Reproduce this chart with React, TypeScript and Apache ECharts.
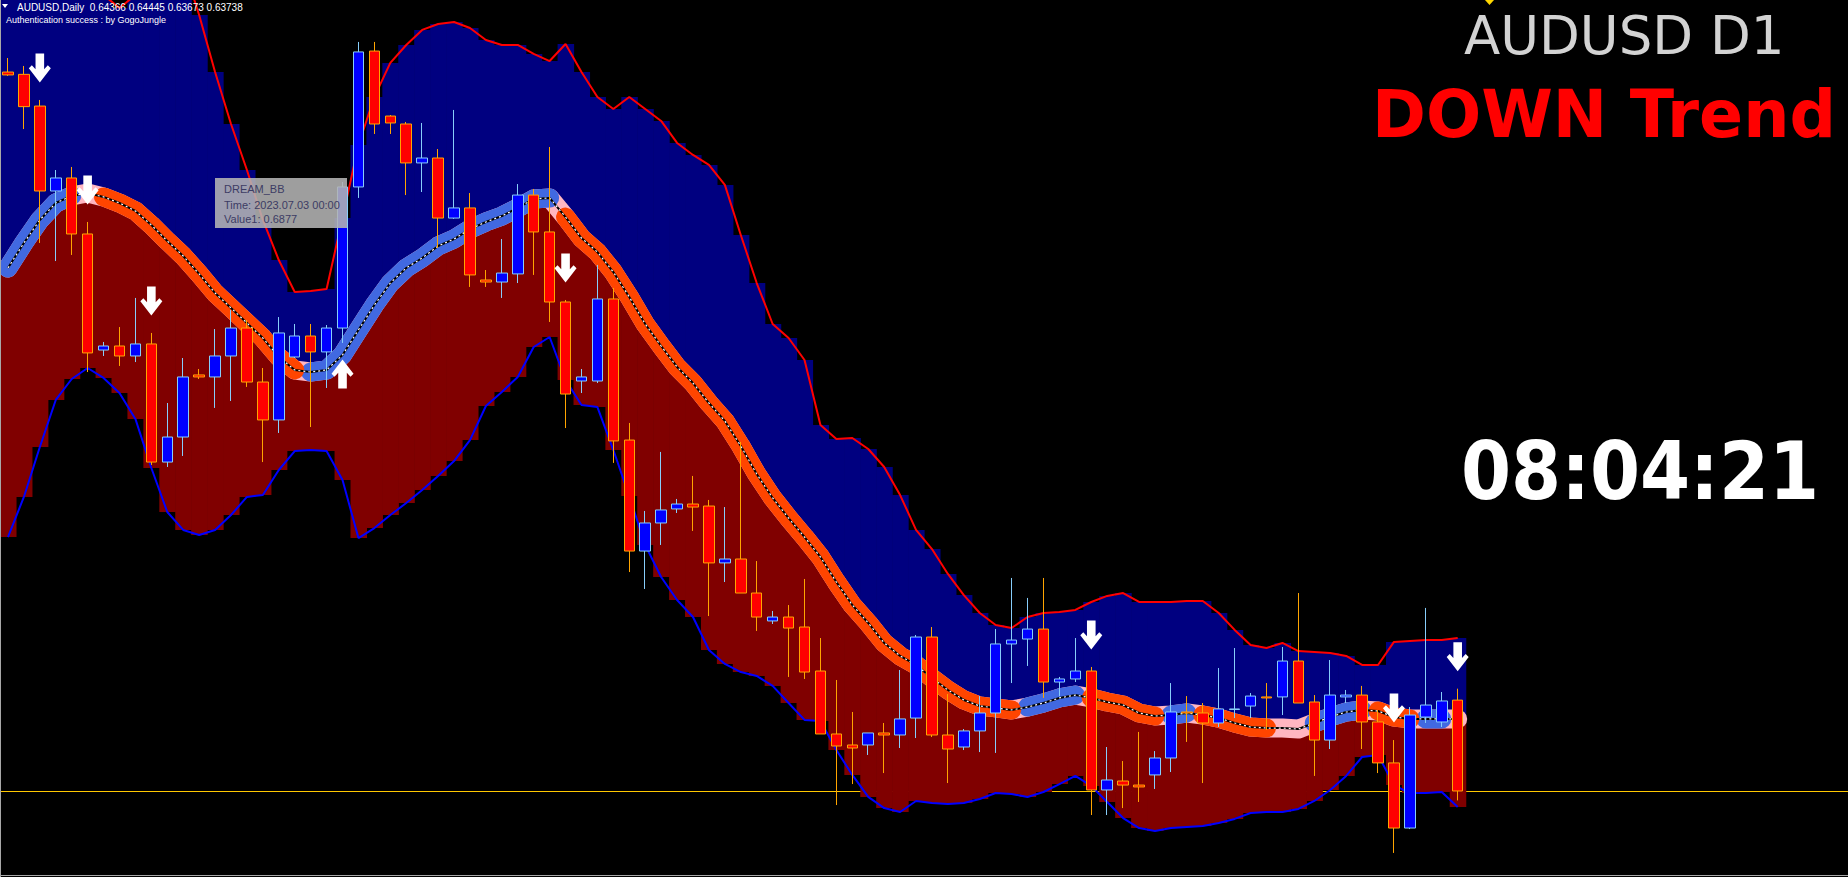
import React, { useEffect, useRef } from "react";
import * as echarts from "echarts";

// ---- price data (AUDUSD Daily), candles 0..91 ----
const openP = [
  0.68706, 0.6869, 0.68471, 0.67884, 0.67974, 0.67587, 0.66785, 0.66813, 0.66744, 0.66827,
  0.66011, 0.66184, 0.66613, 0.66599, 0.66744, 0.66937, 0.66564, 0.66302, 0.66737, 0.66882,
  0.66772, 0.66937, 0.67912, 0.68851, 0.68402, 0.68347, 0.68078, 0.68112, 0.67697, 0.67767,
  0.67269, 0.67255, 0.67311, 0.67856, 0.67601, 0.67117, 0.66571, 0.66571, 0.67138, 0.66163,
  0.65396, 0.6559, 0.65687, 0.65721, 0.65707, 0.65314, 0.65341, 0.65106, 0.64913, 0.6494,
  0.64871, 0.64567, 0.64132, 0.64056, 0.64056, 0.64139, 0.64125, 0.64242, 0.64802, 0.64125,
  0.64042, 0.64153, 0.64277, 0.64754, 0.64788, 0.64857, 0.64491, 0.64512, 0.64567, 0.63745,
  0.63807, 0.63779, 0.63849, 0.63966, 0.64284, 0.64277, 0.64208, 0.64301, 0.64325, 0.64388,
  0.64388, 0.64636, 0.64353, 0.6409, 0.64388, 0.64401, 0.64215, 0.63932, 0.63482, 0.64249,
  0.64215, 0.64366,
];
const highP = [
  0.68803, 0.68748, 0.68513, 0.68029, 0.6805, 0.6767, 0.66841, 0.66944, 0.67145, 0.66903,
  0.66419, 0.6673, 0.66654, 0.6693, 0.67062, 0.66993, 0.66661, 0.67013, 0.66965, 0.66965,
  0.66958, 0.67946, 0.68914, 0.68914, 0.68409, 0.68361, 0.68354, 0.68174, 0.68444, 0.6787,
  0.67338, 0.67552, 0.67932, 0.67898, 0.68188, 0.67131, 0.66654, 0.67373, 0.67214, 0.66281,
  0.65673, 0.66081, 0.65756, 0.65915, 0.65749, 0.657, 0.6615, 0.65327, 0.64982, 0.65023,
  0.65203, 0.64795, 0.64505, 0.64284, 0.64139, 0.64208, 0.64574, 0.64816, 0.64871, 0.64408,
  0.64166, 0.64394, 0.64857, 0.6521, 0.65072, 0.6521, 0.64526, 0.64795, 0.64595, 0.64042,
  0.63945, 0.64146, 0.64014, 0.64484, 0.64394, 0.64346, 0.64588, 0.64726, 0.64415, 0.64484,
  0.64733, 0.65106, 0.64401, 0.64643, 0.64436, 0.64464, 0.64298, 0.6409, 0.64318, 0.65003,
  0.64422, 0.64445,
];
const lowP = [
  0.68679, 0.68312, 0.67525, 0.674, 0.67442, 0.66633, 0.66744, 0.66675, 0.66702, 0.65991,
  0.65977, 0.66053, 0.66585, 0.66385, 0.66433, 0.6653, 0.66011, 0.66212, 0.6673, 0.66253,
  0.66523, 0.66834, 0.67836, 0.68278, 0.68278, 0.67856, 0.67877, 0.6749, 0.67691, 0.67221,
  0.67221, 0.67145, 0.67248, 0.67304, 0.66979, 0.66246, 0.66488, 0.66557, 0.66005, 0.65251,
  0.65134, 0.65438, 0.65659, 0.65535, 0.64947, 0.65182, 0.65106, 0.64844, 0.64892, 0.64526,
  0.64512, 0.64132, 0.63641, 0.63786, 0.63987, 0.63862, 0.64035, 0.64104, 0.64111, 0.63793,
  0.64021, 0.64007, 0.64001, 0.64484, 0.64602, 0.64381, 0.64394, 0.64491, 0.63572, 0.63572,
  0.6362, 0.63662, 0.63752, 0.63869, 0.64077, 0.63793, 0.6418, 0.64242, 0.64242, 0.6416,
  0.64263, 0.64346, 0.63842, 0.64028, 0.64346, 0.64028, 0.63862, 0.6331, 0.63475, 0.64208,
  0.6418, 0.63673,
];
const closeP = [
  0.68686, 0.68467, 0.67884, 0.67974, 0.67587, 0.66765, 0.66813, 0.66744, 0.66827, 0.66011,
  0.66184, 0.66599, 0.66599, 0.66744, 0.66937, 0.66564, 0.66302, 0.66903, 0.66882, 0.66772,
  0.66937, 0.67912, 0.68845, 0.68347, 0.68354, 0.68078, 0.68112, 0.67697, 0.67767, 0.67304,
  0.67255, 0.67317, 0.67856, 0.67601, 0.67117, 0.66481, 0.66599, 0.67138, 0.66157, 0.65396,
  0.6559, 0.6568, 0.65721, 0.657, 0.65314, 0.65341, 0.65106, 0.6494, 0.6494, 0.64864,
  0.6456, 0.64132, 0.64049, 0.64035, 0.64139, 0.64125, 0.64236, 0.64802, 0.64125, 0.64028,
  0.64153, 0.64277, 0.64754, 0.64781, 0.64857, 0.64491, 0.64512, 0.64567, 0.63745, 0.63814,
  0.63779, 0.63766, 0.63966, 0.64284, 0.64277, 0.64208, 0.64305, 0.64305, 0.64394, 0.64381,
  0.64636, 0.64346, 0.6409, 0.64401, 0.64401, 0.64215, 0.63932, 0.63482, 0.64263, 0.64332,
  0.6436, 0.63738,
];

// ---- DREAM_BB bands ----
const upperBand = [
  0.69618, 0.69757, 0.69826, 0.69791, 0.69688, 0.6948, 0.69238, 0.69149, 0.69238, 0.69411,
  0.69549, 0.69446, 0.691, 0.68706, 0.68347, 0.68029, 0.67684, 0.67407, 0.67186, 0.67193,
  0.67207, 0.67697, 0.68202, 0.68534, 0.68769, 0.68893, 0.68997, 0.69038, 0.69052, 0.6901,
  0.68927, 0.68893, 0.68893, 0.68831, 0.68782, 0.689, 0.68706, 0.68534, 0.68451, 0.68534,
  0.68451, 0.68368, 0.68216, 0.68133, 0.68064, 0.67926, 0.6758, 0.67248, 0.66965, 0.66868,
  0.66716, 0.66267, 0.6617, 0.66177, 0.66101, 0.65977, 0.65783, 0.65542, 0.6541, 0.65238,
  0.65092, 0.64968, 0.64885, 0.64864, 0.6494, 0.64968, 0.64975, 0.64989, 0.65044, 0.65086,
  0.65106, 0.65044, 0.65044, 0.65044, 0.65051, 0.65051, 0.64968, 0.64851, 0.64747, 0.64726,
  0.64761, 0.64705, 0.64699, 0.64692, 0.64671, 0.64609, 0.64609, 0.64768, 0.64775, 0.64781,
  0.64781, 0.64795,
];
const middleBand = [
  0.67352, 0.67525, 0.67684, 0.67801, 0.6785, 0.6787, 0.67843, 0.67801, 0.67746, 0.67649,
  0.67539, 0.67435, 0.67311, 0.67179, 0.67076, 0.66972, 0.66868, 0.66737, 0.66647, 0.66633,
  0.66647, 0.66751, 0.66924, 0.67096, 0.67248, 0.67352, 0.67421, 0.67504, 0.67552, 0.67621,
  0.6767, 0.67711, 0.67767, 0.67829, 0.67836, 0.67704, 0.67559, 0.67462, 0.67324, 0.67152,
  0.66965, 0.66813, 0.66668, 0.66557, 0.66419, 0.66295, 0.66122, 0.65928, 0.65763, 0.65624,
  0.65493, 0.65355, 0.65182, 0.65023, 0.64899, 0.64761, 0.64671, 0.64609, 0.64519, 0.64436,
  0.64367, 0.64325, 0.64312, 0.64298, 0.64318, 0.64346, 0.64381, 0.64401, 0.64381, 0.64353,
  0.64332, 0.64277, 0.64256, 0.64263, 0.64277, 0.64263, 0.64242, 0.64208, 0.6418, 0.64173,
  0.64173, 0.64166, 0.64208, 0.64249, 0.64284, 0.64298, 0.64291, 0.64249, 0.64236, 0.64236,
  0.64236, 0.64236,
];
const lowerBand = [
  0.65493, 0.6577, 0.66115, 0.6644, 0.66585, 0.66661, 0.66592, 0.66488, 0.66309, 0.6597,
  0.65666, 0.65542, 0.65507, 0.65542, 0.65645, 0.6577, 0.65783, 0.65956, 0.66087, 0.66094,
  0.66087, 0.65887, 0.65486, 0.65555, 0.65645, 0.65728, 0.65818, 0.65915, 0.66018, 0.66163,
  0.66398, 0.66495, 0.66599, 0.66806, 0.66875, 0.66578, 0.66405, 0.66391, 0.66094, 0.65776,
  0.65438, 0.65217, 0.65058, 0.6494, 0.64712, 0.64616, 0.6456, 0.64533, 0.64464, 0.64346,
  0.64229, 0.64222, 0.64021, 0.63849, 0.63697, 0.6362, 0.63593, 0.63669, 0.63655, 0.63648,
  0.63655, 0.63683, 0.63724, 0.63717, 0.63697, 0.63731, 0.63786, 0.63842, 0.63773, 0.63662,
  0.63551, 0.63482, 0.63462, 0.63482, 0.63489, 0.63496, 0.63517, 0.63545, 0.63586, 0.63593,
  0.63593, 0.63614, 0.63669, 0.63745, 0.63842, 0.63973, 0.63987, 0.63779, 0.63724, 0.63724,
  0.63731, 0.63627,
];
// trend state of the middle line per candle: U = up, D = down, N = neutral
const trendState = [
  "U", "U", "U", "U", "U", "N", "D", "D", "D", "D",
  "D", "D", "D", "D", "D", "D", "D", "D", "D", "U",
  "U", "U", "U", "U", "U", "U", "U", "U", "U", "U",
  "U", "U", "U", "U", "U", "D", "D", "D", "D", "D",
  "D", "D", "D", "D", "D", "D", "D", "D", "D", "D",
  "D", "D", "D", "D", "D", "D", "D", "D", "D", "D",
  "D", "D", "D", "D", "U", "U", "U", "U", "D", "D",
  "D", "D", "D", "U", "U", "D", "D", "D", "D", "D",
  "N", "N", "U", "U", "U", "U", "D", "D", "D", "U",
  "U", "N",
];
const downArrowIdx = [2, 5, 9, 35, 68, 87, 91];
const upArrowIdx = [21];
const bidPrice = 0.63738;

const slotCount = 116;
const priceMin = 0.631437;
const priceMax = 0.692038;

const headerText = "AUDUSD,Daily  0.64366 0.64445 0.63673 0.63738";
const authText = "Authentication success : by GogoJungle";
const tipTitle = "DREAM_BB";
const tipTime = "Time: 2023.07.03 00:00";
const tipValue = "Value1: 0.6877";
const symbolText = "AUDUSD D1";
const trendText = "DOWN Trend";
const clockText = "08:04:21";

const DOWN_ARROW = "path://M6.7,0L15.3,0L15.3,15.5L19,11.5L22,14.5L11,28.5L0,14.5L3,11.5L6.7,15.5Z";
const UP_ARROW = "path://M6.7,28.5L15.3,28.5L15.3,13L19,17L22,14L11,0L0,14L3,17L6.7,13Z";

export default function App() {
  const ref = useRef<HTMLDivElement>(null);
  useEffect(() => {
    document.body.style.margin = "0";
    document.body.style.background = "#000";
    if (!ref.current) return;
    const chart = echarts.init(ref.current, null, { renderer: "svg" });
    const categories = Array.from({ length: slotCount }, (_, i) => String(i));
    const fillData = middleBand.map((m, i) => [i, upperBand[i], m, lowerBand[i]]);
    const candleData = openP.map((o, i) => [o, closeP[i], lowP[i], highP[i]]);
    const byTrend = (t: string) => middleBand.map((v, i) => (trendState[i] === t ? v : null));

    const thick = (data: any[], color: string, z: number) => ({
      type: "line",
      data,
      z,
      silent: true,
      showSymbol: false,
      symbol: "none",
      connectNulls: false,
      lineStyle: { color, width: 19, cap: "round", join: "round" },
    });

    const txt = (x: number, y: number, text: string, font: string, fill: string, align = "left") => ({
      type: "text",
      x,
      y,
      z: 100,
      silent: true,
      style: { text, font, fill, textAlign: align, textVerticalAlign: "middle", align, verticalAlign: "middle" },
    });

    const option: any = {
      animation: false,
      backgroundColor: "#000000",
      grid: { left: -7, right: -1, top: 0, bottom: 0, containLabel: false },
      xAxis: {
        type: "category",
        data: categories,
        boundaryGap: true,
        show: false,
      },
      yAxis: {
        type: "value",
        min: priceMin,
        max: priceMax,
        show: false,
        splitLine: { show: false },
      },
      series: [
        {
          type: "line",
          data: lowerBand,
          z: 1,
          silent: true,
          showSymbol: false,
          symbol: "none",
          lineStyle: { opacity: 0 },
          markLine: {
            z: 1,
            silent: true,
            precision: 5,
            symbol: ["none", "none"],
            label: { show: false },
            lineStyle: { color: "#FFC800", width: 1, type: "solid", opacity: 1 },
            data: [{ yAxis: bidPrice }],
          },
        },
        {
          type: "custom",
          z: 2,
          silent: true,
          data: fillData,
          encode: { x: 0, y: [1, 2, 3] },
          renderItem: (params: any, api: any) => {
            const i = api.value(0);
            const up = api.coord([i, api.value(1)]);
            const mid = api.coord([i, api.value(2)]);
            const lo = api.coord([i, api.value(3)]);
            const w = api.size([1, 0])[0];
            const x = up[0] - w / 2;
            return {
              type: "group",
              children: [
                { type: "rect", shape: { x, y: up[1], width: w + 0.6, height: mid[1] - up[1] }, style: { fill: "#000080" } },
                { type: "rect", shape: { x, y: mid[1], width: w + 0.6, height: lo[1] - mid[1] }, style: { fill: "#800000" } },
              ],
            };
          },
        },
        {
          type: "line",
          data: upperBand,
          z: 3,
          silent: true,
          showSymbol: false,
          symbol: "none",
          lineStyle: { color: "#FF0000", width: 2 },
        },
        {
          type: "line",
          data: lowerBand,
          z: 3,
          silent: true,
          showSymbol: false,
          symbol: "none",
          lineStyle: { color: "#0000FF", width: 2 },
        },
        thick(middleBand, "#FFB6C1", 4),
        thick(byTrend("U"), "#4169E1", 5),
        thick(byTrend("D"), "#FF4500", 5),
        {
          type: "line",
          data: middleBand,
          z: 6,
          silent: true,
          showSymbol: false,
          symbol: "none",
          lineStyle: { color: "#000000", width: 2 },
        },
        {
          type: "line",
          data: middleBand,
          z: 7,
          silent: true,
          showSymbol: false,
          symbol: "none",
          lineStyle: { color: "#FFFFFF", width: 1.2, type: [2, 3] },
        },
        {
          type: "candlestick",
          data: candleData,
          z: 8,
          silent: true,
          barWidth: 11,
          itemStyle: {
            color: "#0000FF",
            color0: "#FF0000",
            borderColor: "#87CEFA",
            borderColor0: "#FFA500",
            borderWidth: 1,
          },
        },
        {
          type: "scatter",
          z: 9,
          silent: true,
          symbol: DOWN_ARROW,
          symbolSize: [22, 29],
          symbolOffset: [0, -32],
          itemStyle: { color: "#FFFFFF", opacity: 1 },
          data: downArrowIdx.map((i) => [i, highP[i]]),
        },
        {
          type: "scatter",
          z: 9,
          silent: true,
          symbol: UP_ARROW,
          symbolSize: [22, 29],
          symbolOffset: [0, 31],
          itemStyle: { color: "#FFFFFF", opacity: 1 },
          data: upArrowIdx.map((i) => [i, lowP[i]]),
        },
      ],
      graphic: [
        { type: "line", z: 100, silent: true, shape: { x1: 0.5, y1: 0, x2: 0.5, y2: 877 }, style: { stroke: "#a8a8a8", lineWidth: 1 } },
        { type: "line", z: 100, silent: true, shape: { x1: 0, y1: 875.5, x2: 1848, y2: 875.5 }, style: { stroke: "#a8a8a8", lineWidth: 1 } },
        { type: "polygon", z: 100, silent: true, shape: { points: [[2, 4], [8, 4], [5, 8]] }, style: { fill: "#FFFFFF" } },
        txt(17, 7, headerText, '10px "Liberation Sans", Arial, sans-serif', "#FFFFFF"),
        txt(6, 20, authText, '9px "Liberation Sans", Arial, sans-serif', "#FFFFFF"),
        { type: "rect", z: 100, silent: true, shape: { x: 215, y: 178, width: 132, height: 50 }, style: { fill: "rgba(180,180,180,0.88)" } },
        txt(224, 188.5, tipTitle, '11px "Liberation Sans", Arial, sans-serif', "#3c3c64"),
        txt(224, 205, tipTime, '11px "Liberation Sans", Arial, sans-serif', "#3c3c64"),
        txt(224, 219, tipValue, '11px "Liberation Sans", Arial, sans-serif', "#3c3c64"),
        { type: "polygon", z: 100, silent: true, shape: { points: [[1485, 0], [1494, 0], [1489.5, 5]] }, style: { fill: "#FFD700" } },
        txt(1464, 35, symbolText, '53px "DejaVu Sans", sans-serif', "#D3D3D3"),
        txt(1836, 114, trendText, 'bold 65px "DejaVu Sans", sans-serif', "#FF0000", "right"),
        txt(1640, 471, clockText, 'bold 80px "DejaVu Sans Condensed", "Liberation Sans", sans-serif', "#FFFFFF", "center"),
      ],
    };
    chart.setOption(option);
    return () => chart.dispose();
  }, []);
  return <div ref={ref} style={{ width: 1848, height: 877, background: "#000" }} />;
}
